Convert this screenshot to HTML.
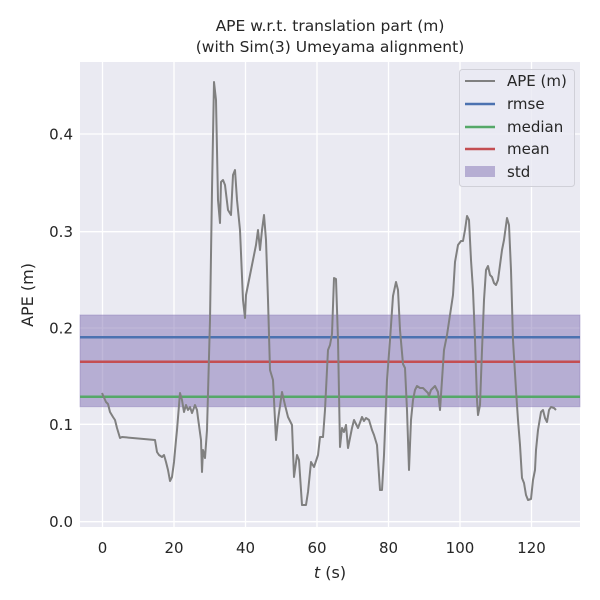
<!DOCTYPE html>
<html><head><style>body{margin:0;background:#fff}svg{display:block;font-family:"DejaVu Sans","Liberation Sans",sans-serif}</style></head><body>
<svg width="600" height="600" viewBox="0 0 600 600" xmlns="http://www.w3.org/2000/svg">
<rect x="0" y="0" width="600" height="600" fill="#fff"/>
<rect x="80" y="62" width="500" height="465" fill="#eaeaf2"/>
<g stroke="#fff" stroke-width="1.3">
<line x1="102.5" y1="62" x2="102.5" y2="527"/><line x1="174" y1="62" x2="174" y2="527"/><line x1="245.5" y1="62" x2="245.5" y2="527"/><line x1="317" y1="62" x2="317" y2="527"/><line x1="388.5" y1="62" x2="388.5" y2="527"/><line x1="460" y1="62" x2="460" y2="527"/><line x1="531.5" y1="62" x2="531.5" y2="527"/>
<line x1="80" y1="521.7" x2="580" y2="521.7"/><line x1="80" y1="424.3" x2="580" y2="424.3"/><line x1="80" y1="328" x2="580" y2="328"/><line x1="80" y1="231.7" x2="580" y2="231.7"/><line x1="80" y1="134" x2="580" y2="134"/>
</g>
<rect x="80" y="315" width="500" height="91.7" fill="#8172b3" fill-opacity="0.5" stroke="#8172b3" stroke-opacity="0.4"/>
<line x1="80" y1="337.3" x2="580" y2="337.3" stroke="#4c72b0" stroke-width="2.5"/>
<line x1="80" y1="361.7" x2="580" y2="361.7" stroke="#c44e52" stroke-width="2.5"/>
<line x1="80" y1="396.7" x2="580" y2="396.7" stroke="#55a868" stroke-width="2.5"/>
<polyline fill="none" stroke="#808080" stroke-width="2" stroke-linejoin="round" points="102,393 106,402 108,404 110,412 113,417 115,420 117,428 120,438 122,437 155,440 157,452 159,455 162,457 164,455 166,462 168,470 170,481 172,477 174,462 176,440 177,430 180,393 182,400 184,412 186,405 188,410 190,407 192,413 195,405 197,410 198,418 201,440 202,472 203,450 205,458 207,430 210,320 212,190 214,82 216,100 218,200 220,223 221,182 223,180 225,185 228,210 231,215 233,175 235,170 237,200 240,230 243,300 245,318 246,295 248,285 252,265 256,245 258,230 260,250 262,230 264,215 266,240 268,300 270,370 273,380 276,440 278,420 282,392 285,405 288,417 292,425 294,477 297,455 299,460 302,505 306,505 308,492 311,462 314,467 318,455 320,437 323,437 325,410 328,350 330,345 332,334 334,278 336,279 338,340 340,447 342,428 344,432 346,425 348,448 350,438 352,428 354,420 358,428 362,417 364,421 366,418 369,420 372,430 374,435 377,445 380,490 382,490 384,455 387,380 390,340 393,296 396,282 398,290 400,330 403,364 405,368 407,410 409,470 411,420 413,400 415,390 417,386 420,388 423,388 428,393 429,396 431,390 435,386 438,392 440,410 442,380 444,350 447,335 450,315 453,295 455,262 458,245 461,241 463,241 465,230 467,216 469,220 471,260 473,290 475,340 477,400 478,415 480,405 482,350 484,300 486,270 488,266 490,275 492,277 494,283 496,285 498,280 500,265 502,250 504,240 507,218 509,225 511,270 513,340 516,390 518,420 520,445 522,478 524,483 526,495 528,500 531,499 533,480 535,470 536,450 538,430 541,412 543,410 545,418 547,422 549,410 551,407 554,408 556,410"/>
<g fill="#262626" font-size="15" text-anchor="end">
<text x="73" y="527">0.0</text><text x="73" y="430">0.1</text><text x="73" y="333.5">0.2</text><text x="73" y="237">0.3</text><text x="73" y="139.5">0.4</text>
</g>
<g fill="#262626" font-size="15" text-anchor="middle">
<text x="102.5" y="553">0</text><text x="174" y="553">20</text><text x="245.5" y="553">40</text><text x="317" y="553">60</text><text x="388.5" y="553">80</text><text x="460" y="553">100</text><text x="531.5" y="553">120</text>
<text x="330" y="578" font-size="16"><tspan font-style="italic">t</tspan> (s)</text>
<text x="330" y="31" font-size="15.5">APE w.r.t. translation part (m)</text>
<text x="330" y="52" font-size="15.5">(with Sim(3) Umeyama alignment)</text>
<text transform="translate(33,295) rotate(-90)" font-size="16">APE (m)</text>
</g>
<rect x="459.5" y="69.5" width="115" height="117" rx="3" fill="#eaeaf2" fill-opacity="0.8" stroke="#d0d0d8"/>
<line x1="465" y1="81" x2="495" y2="81" stroke="#808080" stroke-width="2"/>
<line x1="465" y1="104" x2="495" y2="104" stroke="#4c72b0" stroke-width="2.5"/>
<line x1="465" y1="127" x2="495" y2="127" stroke="#55a868" stroke-width="2.5"/>
<line x1="465" y1="149" x2="495" y2="149" stroke="#c44e52" stroke-width="2.5"/>
<rect x="465" y="166" width="30" height="11" fill="#8172b3" fill-opacity="0.5"/>
<g fill="#262626" font-size="15">
<text x="507" y="86">APE (m)</text><text x="507" y="109">rmse</text><text x="507" y="132">median</text><text x="507" y="154">mean</text><text x="507" y="177">std</text>
</g>
</svg>
</body></html>
